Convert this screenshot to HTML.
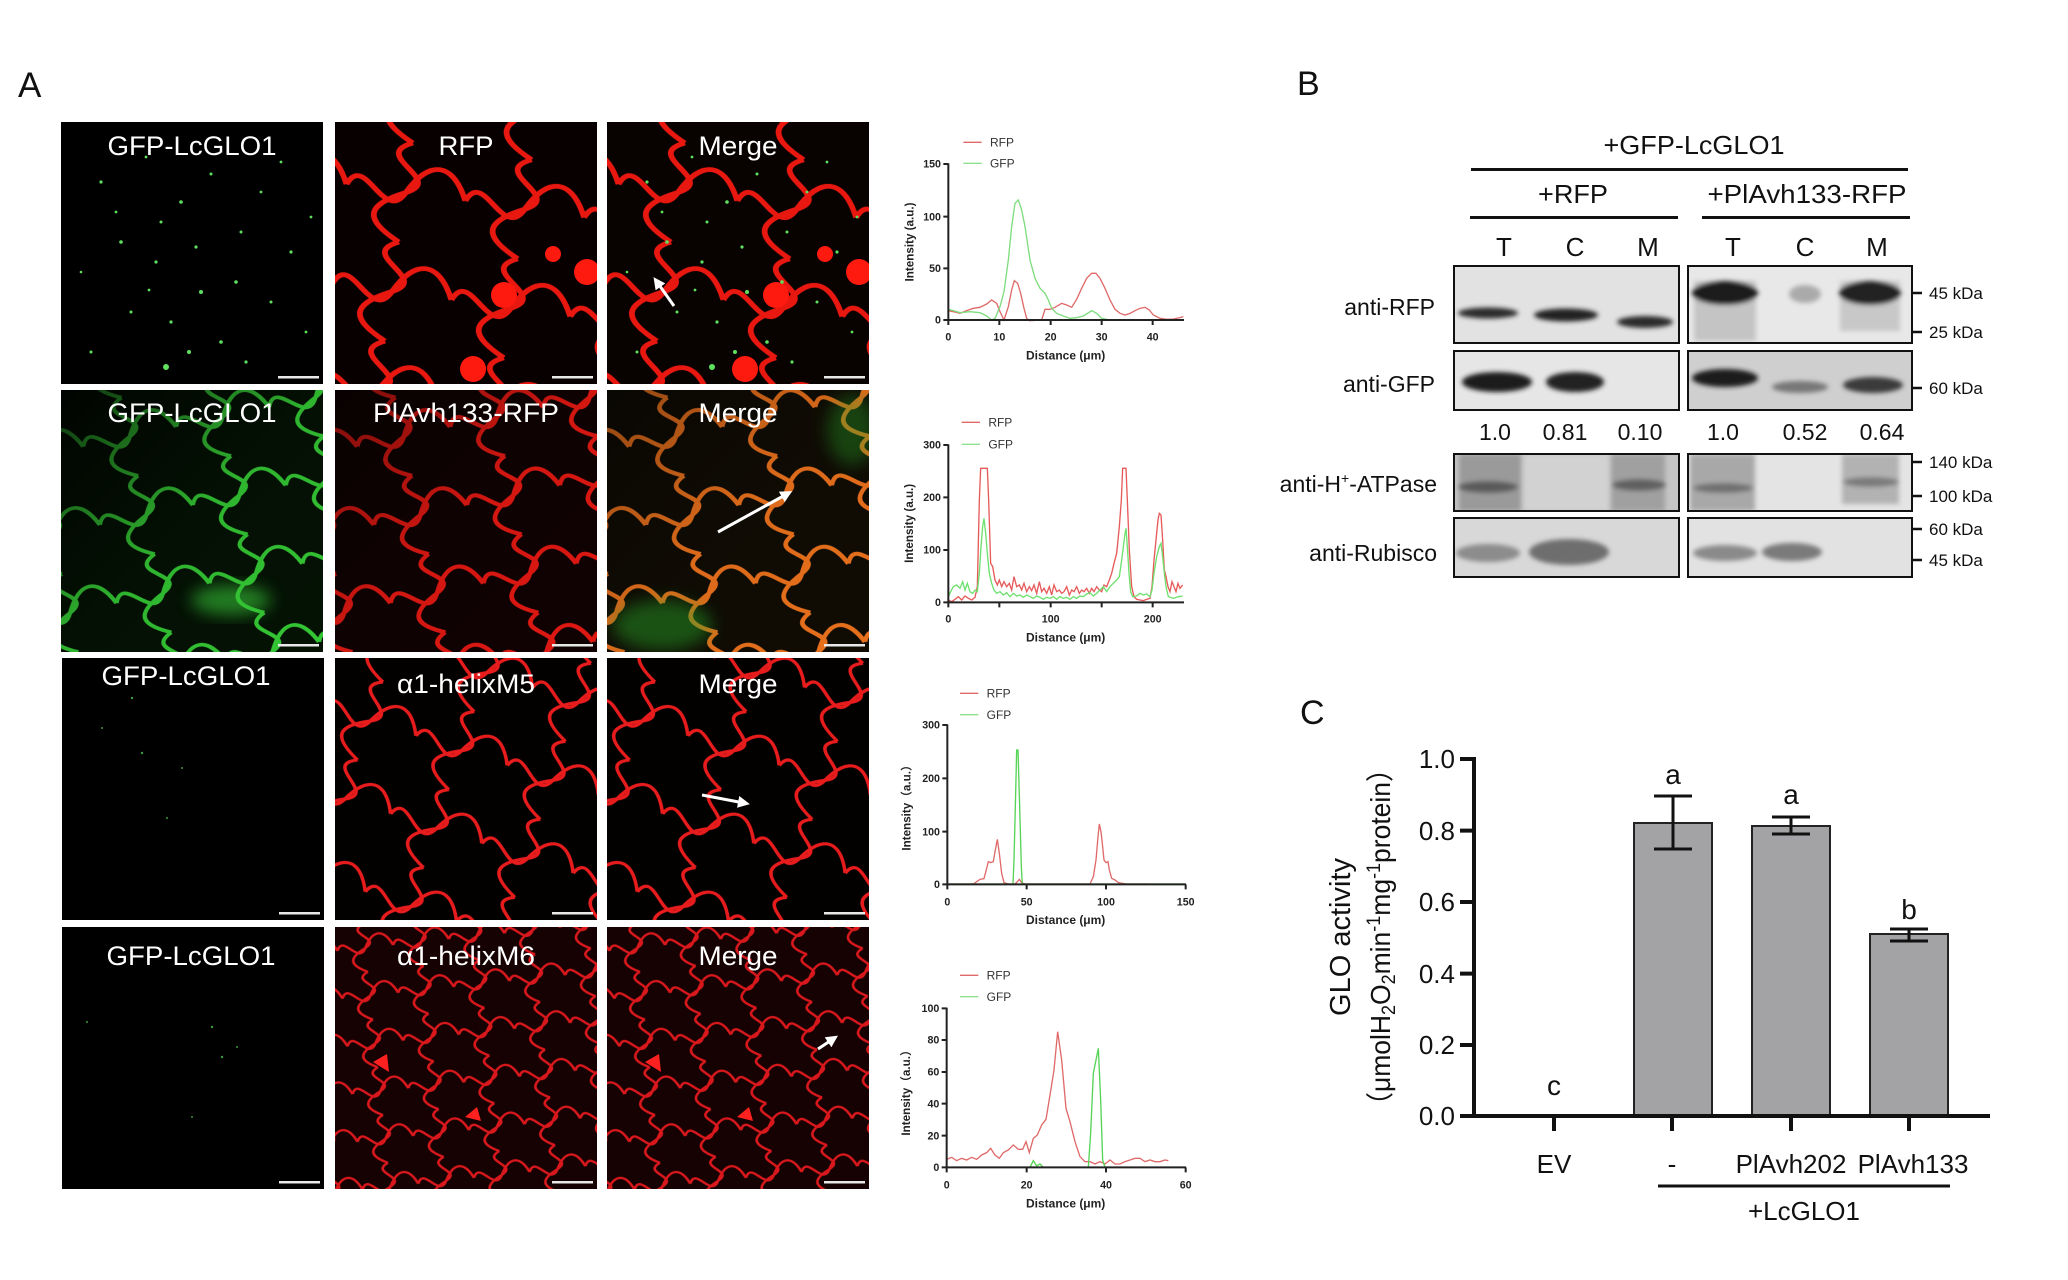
<!DOCTYPE html>
<html><head><meta charset="utf-8"><style>
html,body{margin:0;padding:0;background:#fff;}
body{width:2068px;height:1280px;overflow:hidden;}
svg{display:block;}
text{font-family:"Liberation Sans","Noto Sans CJK SC",sans-serif;}
</style></head><body>
<svg width="2068" height="1280" viewBox="0 0 2068 1280" xmlns="http://www.w3.org/2000/svg">
<defs>
<clipPath id="cp"><rect x="0" y="0" width="262" height="262"/></clipPath>
<clipPath id="c77"><rect x="0" y="0" width="225" height="77"/></clipPath>
<clipPath id="c59"><rect x="0" y="0" width="225" height="59"/></clipPath>
<clipPath id="c57"><rect x="0" y="0" width="225" height="57"/></clipPath>
<filter id="bl" x="-30%" y="-50%" width="160%" height="200%"><feGaussianBlur stdDeviation="2.5"/></filter>
<filter id="bl2" x="-30%" y="-30%" width="160%" height="160%"><feGaussianBlur stdDeviation="8"/></filter>
<marker id="ah" markerWidth="4" markerHeight="4" refX="2" refY="2" orient="auto"><path d="M0,0 L4,2 L0,4 z" fill="#fff"/></marker>
<linearGradient id="dk" x1="0" y1="0" x2="1" y2="1"><stop offset="0" stop-color="#000" stop-opacity="0.75"/><stop offset="0.5" stop-color="#000" stop-opacity="0.1"/><stop offset="1" stop-color="#000" stop-opacity="0"/></linearGradient>
<pattern id="p1" width="120" height="100" patternUnits="userSpaceOnUse" patternTransform="rotate(8) translate(20,10)"><g transform="scale(1.2,1)"><path d="M0,50 C12,15 35,85 50,50 S85,12 100,50 M50,0 C15,18 82,32 50,50 S18,82 50,100" fill="none" stroke="#e81810" stroke-width="4.8"/></g></pattern>
<pattern id="p2r" width="95" height="80" patternUnits="userSpaceOnUse" patternTransform="rotate(-12) translate(10,20)"><g transform="scale(.95,.8)"><path d="M0,50 C12,15 35,85 50,50 S85,12 100,50 M50,0 C15,18 82,32 50,50 S18,82 50,100" fill="none" stroke="#e01812" stroke-width="5"/></g></pattern>
<pattern id="p2g" width="95" height="80" patternUnits="userSpaceOnUse" patternTransform="rotate(-12) translate(10,20)"><g transform="scale(.95,.8)"><path d="M0,50 C12,15 35,85 50,50 S85,12 100,50 M50,0 C15,18 82,32 50,50 S18,82 50,100" fill="none" stroke="#34c834" stroke-width="4.5"/></g></pattern>
<pattern id="p2o" width="95" height="80" patternUnits="userSpaceOnUse" patternTransform="rotate(-12) translate(10,20)"><g transform="scale(.95,.8)"><path d="M0,50 C12,15 35,85 50,50 S85,12 100,50 M50,0 C15,18 82,32 50,50 S18,82 50,100" fill="none" stroke="#e8701c" stroke-width="5"/></g></pattern>
<pattern id="p3" width="96" height="82" patternUnits="userSpaceOnUse" patternTransform="rotate(18) translate(5,8)"><g transform="scale(.96,.82)"><path d="M0,50 C12,15 35,85 50,50 S85,12 100,50 M50,0 C15,18 82,32 50,50 S18,82 50,100" fill="none" stroke="#e81c1c" stroke-width="3.8"/></g></pattern>
<pattern id="p4" width="56" height="48" patternUnits="userSpaceOnUse" patternTransform="rotate(-6)"><g transform="scale(.56,.48)"><path d="M0,50 C12,15 35,85 50,50 S85,12 100,50 M50,0 C15,18 82,32 50,50 S18,82 50,100" fill="none" stroke="#d8181c" stroke-width="4.8"/></g></pattern>
<g id="dots1" fill="#5fe05f">
<circle cx="40" cy="60" r="1.6"/><circle cx="85" cy="35" r="1.4"/><circle cx="120" cy="80" r="1.8"/><circle cx="150" cy="52" r="1.5"/><circle cx="60" cy="120" r="1.8"/><circle cx="95" cy="140" r="1.6"/><circle cx="180" cy="110" r="1.5"/><circle cx="200" cy="70" r="1.4"/><circle cx="230" cy="130" r="1.6"/><circle cx="140" cy="170" r="2"/><circle cx="110" cy="200" r="1.6"/><circle cx="70" cy="190" r="1.5"/><circle cx="160" cy="220" r="1.8"/><circle cx="210" cy="180" r="1.5"/><circle cx="245" cy="210" r="1.4"/><circle cx="30" cy="230" r="1.5"/><circle cx="105" cy="245" r="3"/><circle cx="185" cy="240" r="1.6"/><circle cx="55" cy="90" r="1.4"/><circle cx="220" cy="40" r="1.4"/><circle cx="175" cy="160" r="1.8"/><circle cx="100" cy="100" r="1.5"/><circle cx="250" cy="95" r="1.4"/><circle cx="20" cy="150" r="1.3"/><circle cx="135" cy="125" r="1.6"/><circle cx="128" cy="230" r="2"/><circle cx="88" cy="168" r="1.4"/>
</g>
<g id="nuc" fill="#ff1a10">
<circle cx="169" cy="173" r="13"/><circle cx="138" cy="247" r="13"/><circle cx="252" cy="150" r="13"/><circle cx="218" cy="132" r="8"/>
</g>
<g id="sb"><rect x="217" y="254" width="41" height="2.5" fill="#e8e8e8"/></g>
</defs>

<!-- Panel letters -->
<text x="18" y="97" font-size="35" fill="#111">A</text>
<text x="1297" y="95" font-size="34" fill="#111">B</text>
<text x="1300" y="724" font-size="34" fill="#111">C</text>

<!-- ROW 1 -->
<g transform="translate(61,122)" clip-path="url(#cp)">
<rect width="262" height="262" fill="#000"/><use href="#dots1"/><use href="#sb"/>
<text x="131" y="33" font-size="27" fill="#fff" text-anchor="middle" textLength="169" lengthAdjust="spacingAndGlyphs">GFP-LcGLO1</text></g>
<g transform="translate(335,122)" clip-path="url(#cp)">
<rect width="262" height="262" fill="#080000"/><rect width="262" height="262" fill="url(#p1)"/><use href="#nuc"/><use href="#sb"/>
<text x="131" y="33" font-size="27" fill="#fff" text-anchor="middle" textLength="55" lengthAdjust="spacingAndGlyphs">RFP</text></g>
<g transform="translate(607,122)" clip-path="url(#cp)">
<rect width="262" height="262" fill="#080200"/><rect width="262" height="262" fill="url(#p1)"/><use href="#nuc"/><use href="#dots1"/><use href="#sb"/>
<line x1="67" y1="184" x2="50" y2="160" stroke="#fff" stroke-width="3" marker-end="url(#ah)"/>
<text x="131" y="33" font-size="27" fill="#fff" text-anchor="middle" textLength="79" lengthAdjust="spacingAndGlyphs">Merge</text></g>

<!-- ROW 2 -->
<g transform="translate(61,390)" clip-path="url(#cp)">
<rect width="262" height="262" fill="#041204"/><rect width="262" height="262" fill="url(#p2g)"/>
<ellipse cx="170" cy="210" rx="40" ry="15" fill="#3ad03a" opacity=".6" filter="url(#bl2)"/>
<rect width="262" height="262" fill="url(#dk)"/><use href="#sb"/>
<text x="131" y="32" font-size="27" fill="#fff" text-anchor="middle" textLength="169" lengthAdjust="spacingAndGlyphs">GFP-LcGLO1</text></g>
<g transform="translate(335,390)" clip-path="url(#cp)">
<rect width="262" height="262" fill="#100202"/><rect width="262" height="262" fill="url(#p2r)"/>
<rect width="262" height="262" fill="url(#dk)" opacity=".6"/><use href="#sb"/>
<text x="131" y="32" font-size="27" fill="#fff" text-anchor="middle" textLength="186" lengthAdjust="spacingAndGlyphs">PlAvh133-RFP</text></g>
<g transform="translate(607,390)" clip-path="url(#cp)">
<rect width="262" height="262" fill="#100c04"/><rect width="262" height="262" fill="url(#p2o)"/>
<ellipse cx="55" cy="235" rx="50" ry="25" fill="#2ab02a" opacity=".45" filter="url(#bl2)"/>
<ellipse cx="245" cy="40" rx="25" ry="35" fill="#2ab02a" opacity=".35" filter="url(#bl2)"/>
<rect width="262" height="262" fill="url(#dk)" opacity=".5"/><use href="#sb"/>
<line x1="111" y1="142" x2="180" y2="104" stroke="#fff" stroke-width="3" marker-end="url(#ah)"/>
<text x="131" y="32" font-size="27" fill="#fff" text-anchor="middle" textLength="79" lengthAdjust="spacingAndGlyphs">Merge</text></g>

<!-- ROW 3 -->
<g transform="translate(62,658)" clip-path="url(#cp)">
<rect width="262" height="262" fill="#000"/>
<g fill="#3a9a3a"><circle cx="70" cy="40" r="1.2"/><circle cx="80" cy="95" r="1.2"/><circle cx="120" cy="110" r="1"/><circle cx="105" cy="160" r="1"/><circle cx="40" cy="70" r="1"/></g>
<use href="#sb"/>
<text x="124" y="27" font-size="27" fill="#fff" text-anchor="middle" textLength="169" lengthAdjust="spacingAndGlyphs">GFP-LcGLO1</text></g>
<g transform="translate(335,658)" clip-path="url(#cp)">
<rect width="262" height="262" fill="#030000"/><rect width="262" height="262" fill="url(#p3)"/><use href="#sb"/>
<text x="131" y="35" font-size="27" fill="#fff" text-anchor="middle" textLength="138" lengthAdjust="spacingAndGlyphs">α1-helixM5</text></g>
<g transform="translate(607,658)" clip-path="url(#cp)">
<rect width="262" height="262" fill="#030000"/><rect width="262" height="262" fill="url(#p3)"/><use href="#sb"/>
<line x1="95" y1="137" x2="137" y2="145" stroke="#fff" stroke-width="3" marker-end="url(#ah)"/>
<text x="131" y="35" font-size="27" fill="#fff" text-anchor="middle" textLength="79" lengthAdjust="spacingAndGlyphs">Merge</text></g>

<!-- ROW 4 -->
<g transform="translate(62,927)" clip-path="url(#cp)">
<rect width="262" height="262" fill="#000"/>
<g fill="#3a9a3a"><circle cx="150" cy="100" r="1.2"/><circle cx="160" cy="130" r="1.2"/><circle cx="175" cy="120" r="1"/><circle cx="25" cy="95" r="1"/><circle cx="130" cy="190" r="1"/></g>
<use href="#sb"/>
<text x="129" y="38" font-size="27" fill="#fff" text-anchor="middle" textLength="169" lengthAdjust="spacingAndGlyphs">GFP-LcGLO1</text></g>
<g transform="translate(335,927)" clip-path="url(#cp)">
<rect width="262" height="262" fill="#160202"/><rect width="262" height="262" fill="url(#p4)"/>
<path d="M38,135 l14,-8 l2,18 z M130,190 l12,-10 l4,14 z" fill="#ff2020"/><use href="#sb"/>
<text x="131" y="38" font-size="27" fill="#fff" text-anchor="middle" textLength="138" lengthAdjust="spacingAndGlyphs">α1-helixM6</text></g>
<g transform="translate(607,927)" clip-path="url(#cp)">
<rect width="262" height="262" fill="#160202"/><rect width="262" height="262" fill="url(#p4)"/>
<path d="M38,135 l14,-8 l2,18 z M130,190 l12,-10 l4,14 z" fill="#ff2020"/><use href="#sb"/>
<line x1="211" y1="122" x2="226" y2="112" stroke="#fff" stroke-width="3" marker-end="url(#ah)"/>
<text x="131" y="38" font-size="27" fill="#fff" text-anchor="middle" textLength="79" lengthAdjust="spacingAndGlyphs">Merge</text></g>

<!-- LINE PLOT 1 -->
<g transform="translate(880,100) scale(0.33333)">
<line x1="250" y1="127" x2="305" y2="127" stroke="#e06a6a" stroke-width="4"/>
<text x="330" y="140" font-size="36" fill="#333">RFP</text>
<line x1="250" y1="190" x2="305" y2="190" stroke="#8ee08e" stroke-width="4"/>
<text x="330" y="203" font-size="36" fill="#333">GFP</text>
<polyline fill="none" stroke="#e06a6a" stroke-width="4" points="205,632 220,635 240,640 260,632 280,625 300,622 320,612 335,600 350,610 360,635 372,660 385,620 395,570 403,542 413,550 422,580 432,625 440,655 448,662 485,660 495,628 510,628 525,622 545,610 560,615 575,622 590,598 605,565 620,535 635,520 648,520 660,535 675,565 690,600 705,628 720,640 735,645 750,640 765,632 780,625 795,622 808,630 820,645 840,655 860,658 880,657 900,653 910,650"/>
<polyline fill="none" stroke="#7edc7e" stroke-width="4" points="205,628 220,632 240,638 270,635 300,638 320,648 335,660 345,655 360,620 372,575 385,480 395,380 405,310 415,300 425,330 435,380 450,480 465,535 480,565 495,580 505,600 515,625 530,640 550,648 570,655 590,653 610,648 635,632 650,640 665,655 690,660 910,660"/>
<path d="M205,190 V660 H912 M190,192 H205 M190,350 H205 M190,505 H205 M190,660 H205 M205,660 V675 M358,660 V675 M512,660 V675 M665,660 V675 M818,660 V675" fill="none" stroke="#222" stroke-width="6"/>
<g font-size="32" font-weight="bold" fill="#222" text-anchor="end"><text x="183" y="203">150</text><text x="183" y="361">100</text><text x="183" y="516">50</text><text x="183" y="671">0</text></g>
<g font-size="32" font-weight="bold" fill="#222" text-anchor="middle"><text x="205" y="722">0</text><text x="358" y="722">10</text><text x="512" y="722">20</text><text x="665" y="722">30</text><text x="818" y="722">40</text></g>
<text x="557" y="778" font-size="36" font-weight="bold" fill="#222" text-anchor="middle">Distance (μm)</text>
<text x="101" y="426" font-size="35" font-weight="bold" fill="#222" text-anchor="middle" transform="rotate(-90 101 426)">Intensity (a.u.)</text>
</g>

<!-- LINE PLOT 2 -->
<g transform="translate(880,400) scale(0.33333)">
<line x1="245" y1="67" x2="300" y2="67" stroke="#e06a6a" stroke-width="4"/>
<text x="325" y="80" font-size="36" fill="#333">RFP</text>
<line x1="245" y1="133" x2="300" y2="133" stroke="#8ee08e" stroke-width="4"/>
<text x="325" y="146" font-size="36" fill="#333">GFP</text>
<polyline fill="none" stroke="#e65a5a" stroke-width="4" points="205,600 215,605 225,598 235,590 245,600 255,588 265,595 275,600 285,592 292,560 298,300 302,205 322,205 326,300 332,490 338,500 345,540 352,555 358,540 365,560 372,545 380,560 388,550 395,570 402,530 410,560 418,555 425,570 432,550 440,575 448,560 455,572 462,555 470,580 478,545 485,575 492,565 500,580 508,560 515,585 522,555 530,575 538,570 545,580 552,575 560,560 568,585 575,570 582,575 590,560 598,580 605,570 612,575 620,565 628,580 635,565 642,575 650,560 658,570 665,575 672,555 680,560 688,540 695,520 702,490 710,460 718,380 724,300 728,205 738,205 742,300 748,450 755,560 762,590 770,598 780,600 790,602 800,598 810,595 816,560 822,480 828,420 834,360 838,340 843,345 848,420 853,510 858,530 864,560 870,575 876,545 882,560 888,575 894,550 900,565 908,555"/>
<polyline fill="none" stroke="#6ee06e" stroke-width="4" points="205,590 212,575 220,560 230,555 240,565 248,545 255,570 262,550 270,575 278,580 285,570 292,575 298,520 303,440 308,380 312,355 317,400 322,460 328,520 335,550 342,570 350,580 360,575 370,585 380,578 390,590 400,580 410,588 420,585 430,592 440,585 450,590 460,595 470,588 480,592 490,598 500,592 510,595 520,590 530,598 540,590 550,595 560,592 570,598 580,590 590,595 600,588 610,590 620,582 630,578 640,588 650,580 660,570 670,560 680,575 690,560 700,550 710,540 718,530 725,480 730,440 735,400 738,385 742,440 747,520 752,575 758,590 770,588 780,580 790,585 800,582 810,590 816,570 822,520 830,470 838,440 843,430 848,470 853,520 858,560 865,590 880,595 895,590 908,588"/>
<path d="M205,133 V607 H912 M190,135 H205 M190,292 H205 M190,450 H205 M190,607 H205 M205,607 V622 M358,607 V622 M512,607 V622 M665,607 V622 M818,607 V622" fill="none" stroke="#222" stroke-width="6"/>
<g font-size="32" font-weight="bold" fill="#222" text-anchor="end"><text x="183" y="146">300</text><text x="183" y="303">200</text><text x="183" y="461">100</text><text x="183" y="618">0</text></g>
<g font-size="32" font-weight="bold" fill="#222" text-anchor="middle"><text x="205" y="668">0</text><text x="512" y="668">100</text><text x="818" y="668">200</text></g>
<text x="557" y="725" font-size="36" font-weight="bold" fill="#222" text-anchor="middle">Distance (μm)</text>
<text x="99" y="370" font-size="35" font-weight="bold" fill="#222" text-anchor="middle" transform="rotate(-90 99 370)">Intensity (a.u.)</text>
</g>

<!-- LINE PLOT 3 -->
<g transform="translate(880,680) scale(0.33333)">
<line x1="240" y1="40" x2="295" y2="40" stroke="#e06a6a" stroke-width="4"/>
<text x="320" y="53" font-size="36" fill="#333">RFP</text>
<line x1="240" y1="104" x2="295" y2="104" stroke="#8ee08e" stroke-width="4"/>
<text x="320" y="117" font-size="36" fill="#333">GFP</text>
<polyline fill="none" stroke="#e06a6a" stroke-width="4" points="202,612 280,612 290,605 300,598 312,596 320,565 325,545 332,548 340,545 346,510 352,478 358,520 365,580 372,608 385,612 405,612 412,605 418,598 425,608 435,612 630,612 640,590 648,540 654,470 658,432 663,455 668,500 672,540 678,548 684,545 688,570 695,595 705,600 715,608 740,612 810,612"/>
<polyline fill="none" stroke="#55d455" stroke-width="4" points="202,612 399,612 402,540 406,380 410,210 414,210 419,380 424,560 427,612 917,612"/>
<path d="M202,133 V613 H918 M187,135 H202 M187,295 H202 M187,455 H202 M187,613 H202 M202,613 V628 M440,613 V628 M678,613 V628 M917,613 V628" fill="none" stroke="#222" stroke-width="6"/>
<g font-size="32" font-weight="bold" fill="#222" text-anchor="end"><text x="180" y="146">300</text><text x="180" y="306">200</text><text x="180" y="466">100</text><text x="180" y="624">0</text></g>
<g font-size="32" font-weight="bold" fill="#222" text-anchor="middle"><text x="202" y="676">0</text><text x="440" y="676">50</text><text x="678" y="676">100</text><text x="917" y="676">150</text></g>
<text x="557" y="732" font-size="36" font-weight="bold" fill="#222" text-anchor="middle">Distance (μm)</text>
<text x="92" y="375" font-size="35" font-weight="bold" fill="#222" text-anchor="middle" transform="rotate(-90 92 375)">Intensity（a.u.）</text>
</g>

<!-- LINE PLOT 4 -->
<g transform="translate(880,960) scale(0.33333)">
<line x1="240" y1="46" x2="295" y2="46" stroke="#e06a6a" stroke-width="4"/>
<text x="320" y="59" font-size="36" fill="#333">RFP</text>
<line x1="240" y1="110" x2="295" y2="110" stroke="#8ee08e" stroke-width="4"/>
<text x="320" y="123" font-size="36" fill="#333">GFP</text>
<polyline fill="none" stroke="#e06a6a" stroke-width="4" points="200,598 215,592 230,602 245,595 260,600 275,592 290,598 305,585 320,578 332,565 345,585 358,595 370,578 385,570 400,555 415,568 428,568 438,545 448,578 460,535 472,525 485,495 498,478 510,405 522,330 533,215 545,300 558,445 570,485 585,545 600,590 615,605 630,605 645,612 660,605 675,612 690,600 705,612 720,612 735,605 750,600 765,595 780,595 795,605 810,600 825,605 840,605 855,600 865,602"/>
<polyline fill="none" stroke="#55d455" stroke-width="4" points="200,622 450,622 460,602 470,618 480,612 490,622 625,622 632,520 640,340 648,300 655,265 662,420 668,600 675,622 917,622"/>
<path d="M200,143 V622 H918 M185,145 H200 M185,240 H200 M185,336 H200 M185,431 H200 M185,527 H200 M185,622 H200 M200,622 V637 M440,622 V637 M678,622 V637 M917,622 V637" fill="none" stroke="#222" stroke-width="6"/>
<g font-size="32" font-weight="bold" fill="#222" text-anchor="end"><text x="178" y="156">100</text><text x="178" y="251">80</text><text x="178" y="347">60</text><text x="178" y="442">40</text><text x="178" y="538">20</text><text x="178" y="633">0</text></g>
<g font-size="32" font-weight="bold" fill="#222" text-anchor="middle"><text x="200" y="685">0</text><text x="440" y="685">20</text><text x="678" y="685">40</text><text x="917" y="685">60</text></g>
<text x="557" y="742" font-size="36" font-weight="bold" fill="#222" text-anchor="middle">Distance (μm)</text>
<text x="90" y="390" font-size="35" font-weight="bold" fill="#222" text-anchor="middle" transform="rotate(-90 90 390)">Intensity（a.u.）</text>
</g>

<!-- PANEL B : western blot -->
<g fill="#111">
<text x="1694" y="154" font-size="26" text-anchor="middle" textLength="181" lengthAdjust="spacingAndGlyphs">+GFP-LcGLO1</text>
<rect x="1471" y="168" width="437" height="3"/>
<text x="1573" y="203" font-size="26" text-anchor="middle" textLength="70" lengthAdjust="spacingAndGlyphs">+RFP</text>
<text x="1807" y="203" font-size="26" text-anchor="middle" textLength="199" lengthAdjust="spacingAndGlyphs">+PlAvh133-RFP</text>
<rect x="1470" y="216" width="208" height="3"/><rect x="1702" y="216" width="208" height="3"/>
<g font-size="26" text-anchor="middle"><text x="1504" y="256">T</text><text x="1575" y="256">C</text><text x="1648" y="256">M</text><text x="1733" y="256">T</text><text x="1805" y="256">C</text><text x="1877" y="256">M</text></g>
<g font-size="23" text-anchor="end"><text x="1435" y="315">anti-RFP</text><text x="1435" y="392">anti-GFP</text><text x="1437" y="492">anti-H<tspan font-size="14" dy="-9">+</tspan><tspan dy="9">-ATPase</tspan></text><text x="1437" y="561">anti-Rubisco</text></g>
<g font-size="23" text-anchor="middle"><text x="1495" y="440">1.0</text><text x="1565" y="440">0.81</text><text x="1640" y="440">0.10</text><text x="1723" y="440">1.0</text><text x="1805" y="440">0.52</text><text x="1882" y="440">0.64</text></g>
<g font-size="17"><text x="1929" y="299">45 kDa</text><text x="1929" y="338">25 kDa</text><text x="1929" y="394">60 kDa</text><text x="1929" y="468">140 kDa</text><text x="1929" y="502">100 kDa</text><text x="1929" y="535">60 kDa</text><text x="1929" y="566">45 kDa</text></g>
</g>
<path d="M1912,293 H1922 M1912,332 H1922 M1912,388 H1922 M1912,462 H1922 M1912,496 H1922 M1912,529 H1922 M1912,560 H1922" stroke="#111" stroke-width="2.5"/>

<!-- blot boxes -->
<g transform="translate(1454,266)" clip-path="url(#c77)"><rect width="225" height="77" fill="#e2e2e2"/>
<g filter="url(#bl)"><ellipse cx="34" cy="47" rx="30" ry="5.5" fill="#2b2b2b"/><ellipse cx="112" cy="49" rx="32" ry="6.5" fill="#222"/><ellipse cx="191" cy="56" rx="28" ry="6" fill="#2b2b2b"/></g></g>
<g transform="translate(1688,266)" clip-path="url(#c77)"><rect width="225" height="77" fill="#e8e8e8"/>
<g filter="url(#bl)"><rect x="6" y="15" width="62" height="60" fill="#c4c4c4"/><rect x="152" y="15" width="60" height="50" fill="#c8c8c8"/><ellipse cx="37" cy="27" rx="33" ry="12" fill="#1a1a1a"/><ellipse cx="117" cy="28" rx="16" ry="9" fill="#aaa"/><ellipse cx="182" cy="27" rx="31" ry="12" fill="#242424"/></g></g>
<g transform="translate(1454,351)" clip-path="url(#c59)"><rect width="225" height="59" fill="#e6e6e6"/>
<g filter="url(#bl)"><ellipse cx="43" cy="31" rx="35" ry="10" fill="#1c1c1c"/><ellipse cx="121" cy="31" rx="29" ry="10" fill="#222"/></g></g>
<g transform="translate(1688,351)" clip-path="url(#c59)"><rect width="225" height="59" fill="#cfcfcf"/>
<g filter="url(#bl)"><ellipse cx="37" cy="27" rx="33" ry="9" fill="#1e1e1e"/><ellipse cx="112" cy="36" rx="28" ry="6" fill="#777"/><ellipse cx="185" cy="34" rx="30" ry="8" fill="#3a3a3a"/></g></g>
<g transform="translate(1454,454)" clip-path="url(#c57)"><rect width="225" height="57" fill="#c4c4c4"/>
<g filter="url(#bl)"><rect x="70" y="0" width="85" height="57" fill="#d2d2d2"/><rect x="5" y="0" width="62" height="57" fill="#9a9a9a"/><rect x="157" y="0" width="54" height="57" fill="#a0a0a0"/><ellipse cx="34" cy="33" rx="30" ry="6" fill="#5a5a5a"/><ellipse cx="185" cy="31" rx="27" ry="6" fill="#606060"/></g></g>
<g transform="translate(1688,454)" clip-path="url(#c57)"><rect width="225" height="57" fill="#e4e4e4"/>
<g filter="url(#bl)"><rect x="2" y="0" width="65" height="57" fill="#a8a8a8"/><rect x="154" y="0" width="57" height="50" fill="#b2b2b2"/><ellipse cx="35" cy="34" rx="30" ry="5" fill="#707070"/><ellipse cx="183" cy="28" rx="28" ry="5" fill="#7a7a7a"/></g></g>
<g transform="translate(1454,518)" clip-path="url(#c59)"><rect width="225" height="59" fill="#d8d8d8"/>
<g filter="url(#bl)"><ellipse cx="34" cy="35" rx="32" ry="9" fill="#8c8c8c"/><ellipse cx="115" cy="34" rx="40" ry="13" fill="#6e6e6e"/></g></g>
<g transform="translate(1688,518)" clip-path="url(#c59)"><rect width="225" height="59" fill="#e2e2e2"/>
<g filter="url(#bl)"><ellipse cx="37" cy="35" rx="32" ry="8" fill="#8a8a8a"/><ellipse cx="104" cy="34" rx="30" ry="9" fill="#7a7a7a"/></g></g>
<g fill="none" stroke="#111" stroke-width="2">
<rect x="1454" y="266" width="225" height="77"/><rect x="1688" y="266" width="224" height="77"/>
<rect x="1454" y="351" width="225" height="59"/><rect x="1688" y="351" width="224" height="59"/>
<rect x="1454" y="454" width="225" height="57"/><rect x="1688" y="454" width="224" height="57"/>
<rect x="1454" y="518" width="225" height="59"/><rect x="1688" y="518" width="224" height="59"/>
</g>

<!-- PANEL C : bar chart -->
<g fill="#a3a3a5" stroke="#222" stroke-width="2">
<rect x="1634" y="823" width="78" height="293"/><rect x="1752" y="826" width="78" height="290"/><rect x="1870" y="934" width="78" height="182"/>
</g>
<path d="M1673,796 V849 M1654,796 H1692 M1654,849 H1692 M1791,817 V834 M1772,817 H1810 M1772,834 H1810 M1909,929 V941 M1890,929 H1928 M1890,941 H1928" stroke="#111" stroke-width="3" fill="none"/>
<path d="M1474,757 V1118 M1460,1116 H1990 M1460,759 H1474 M1460,830.6 H1474 M1460,902 H1474 M1460,973.6 H1474 M1460,1045 H1474 M1554,1116 V1131 M1672,1116 V1131 M1791,1116 V1131 M1909,1116 V1131" stroke="#111" stroke-width="4" fill="none"/>
<g font-size="26" fill="#111" text-anchor="end"><text x="1455" y="768">1.0</text><text x="1455" y="840">0.8</text><text x="1455" y="911">0.6</text><text x="1455" y="983">0.4</text><text x="1455" y="1054">0.2</text><text x="1455" y="1125">0.0</text></g>
<g font-size="28" fill="#111" text-anchor="middle"><text x="1673" y="784">a</text><text x="1791" y="804">a</text><text x="1909" y="919">b</text><text x="1554" y="1095">c</text></g>
<g font-size="26" fill="#111" text-anchor="middle"><text x="1554" y="1173">EV</text><text x="1672" y="1173">-</text><text x="1791" y="1173">PlAvh202</text><text x="1913" y="1173">PlAvh133</text><text x="1804" y="1220">+LcGLO1</text></g>
<rect x="1658" y="1184.5" width="292" height="3" fill="#111"/>
<text x="1350" y="937" font-size="29" fill="#111" text-anchor="middle" transform="rotate(-90 1350 937)">GLO activity</text>
<text x="1390" y="937" font-size="28" fill="#111" text-anchor="middle" textLength="363" lengthAdjust="spacingAndGlyphs" transform="rotate(-90 1390 937)">（μmolH<tspan font-size="19" dy="5">2</tspan><tspan dy="-5">O</tspan><tspan font-size="19" dy="5">2</tspan><tspan dy="-5">min</tspan><tspan font-size="19" dy="-10">-1</tspan><tspan dy="10">mg</tspan><tspan font-size="19" dy="-10">-1</tspan><tspan dy="10">protein）</tspan></text>
</svg>
</body></html>
